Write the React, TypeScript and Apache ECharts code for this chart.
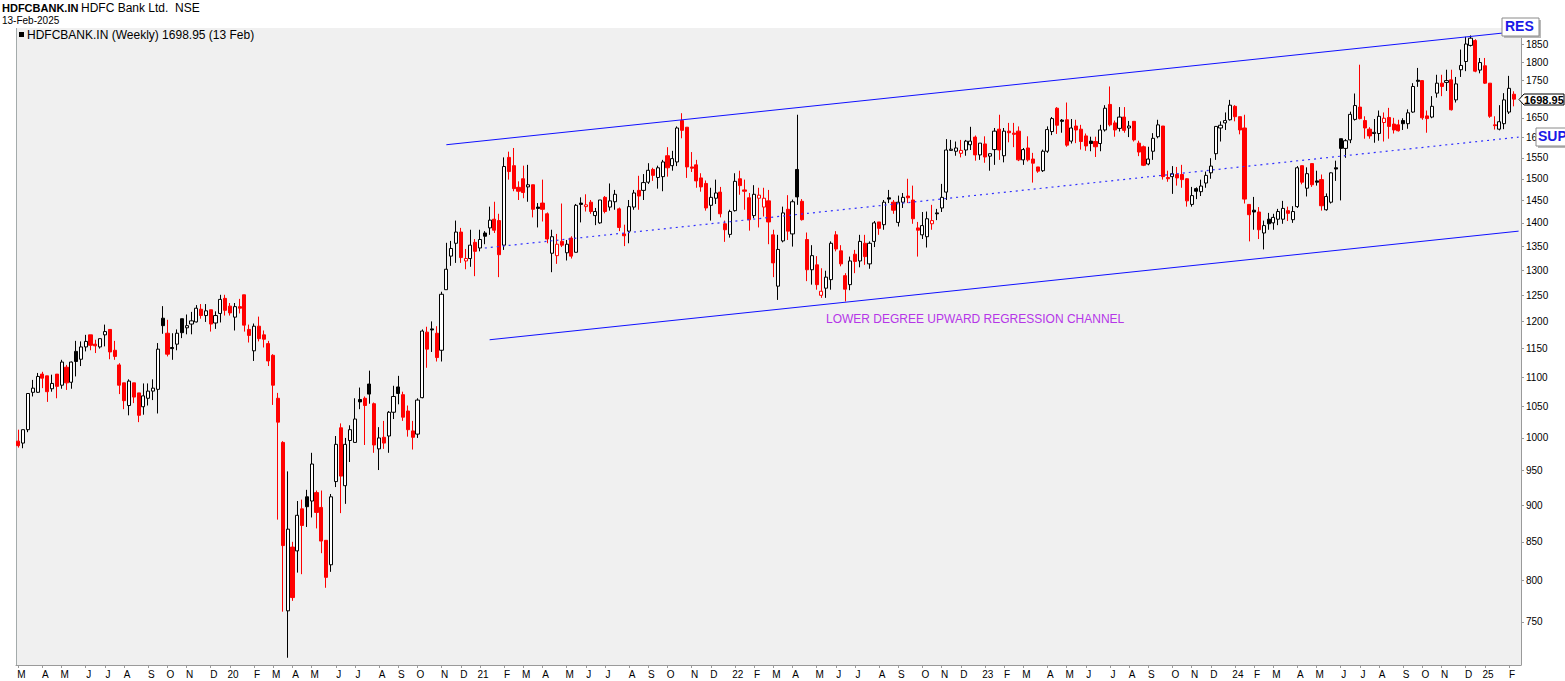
import React, { useEffect, useRef } from "react";
import * as echarts from "echarts";

// Weekly bars, first bar = week ending 2019-03-01
const firstWeek = "2019-03-01";

const opens = [
  995, 992, 1013, 1074, 1074, 1105, 1102, 1080, 1105, 1086,
  1117, 1091, 1145, 1131, 1153, 1175, 1158, 1153, 1175, 1185,
  1147, 1121, 1090, 1052, 1090, 1073, 1050, 1064, 1076, 1079,
  1206, 1178, 1152, 1158, 1205, 1188, 1195, 1199, 1223, 1211,
  1222, 1197, 1215, 1244, 1229, 1208, 1228, 1251, 1185, 1146,
  1191, 1175, 1159, 1138, 1064, 993, 763, 843, 838, 895,
  912, 906, 918, 897, 852, 820, 934, 1016, 928, 996,
  993, 1062, 1064, 1088, 1055, 983, 1001, 1003, 1041, 1083,
  1070, 1043, 1011, 1006, 1065, 1180, 1186, 1178, 1147, 1261,
  1329, 1356, 1380, 1319, 1324, 1358, 1346, 1378, 1389, 1408,
  1405, 1352, 1551, 1531, 1480, 1500, 1481, 1486, 1435, 1444,
  1420, 1335, 1330, 1360, 1336, 1367, 1337, 1444, 1436, 1446,
  1416, 1400, 1457, 1435, 1447, 1431, 1376, 1382, 1435, 1473,
  1473, 1492, 1522, 1503, 1505, 1555, 1531, 1540, 1643, 1626,
  1528, 1533, 1502, 1489, 1439, 1455, 1469, 1398, 1375, 1427,
  1500, 1474, 1456, 1416, 1455, 1435, 1449, 1374, 1268, 1361,
  1430, 1376, 1522, 1448, 1364, 1301, 1311, 1250, 1264, 1281,
  1374, 1340, 1289, 1271, 1333, 1319, 1356, 1313, 1360, 1402,
  1396, 1456, 1446, 1401, 1446, 1460, 1451, 1389, 1374, 1370,
  1398, 1422, 1433, 1469, 1568, 1566, 1561, 1569, 1582, 1601,
  1557, 1584, 1554, 1570, 1621, 1555, 1616, 1611, 1616, 1545,
  1574, 1547, 1528, 1519, 1566, 1615, 1675, 1644, 1645, 1591,
  1629, 1621, 1604, 1591, 1590, 1585, 1619, 1685, 1637, 1623,
  1652, 1624, 1641, 1586, 1577, 1535, 1566, 1602, 1629, 1503,
  1505, 1510, 1510, 1500, 1441, 1477, 1470, 1490, 1514, 1560,
  1624, 1637, 1645, 1680, 1653, 1624, 1441, 1428, 1424, 1378,
  1408, 1400, 1408, 1408, 1427, 1407, 1436, 1531, 1478, 1536,
  1495, 1498, 1429, 1446, 1526, 1597, 1573, 1594, 1646, 1678,
  1643, 1621, 1610, 1610, 1638, 1651, 1634, 1632, 1643, 1635,
  1665, 1750, 1749, 1655, 1652, 1715, 1742, 1744, 1751, 1697,
  1779, 1802, 1848, 1862, 1778, 1790, 1742, 1632, 1621, 1635,
  1665, 1712,
];

const highs = [
  1013, 1013, 1072, 1095, 1107, 1109, 1102, 1104, 1105, 1130,
  1121, 1127, 1164, 1163, 1175, 1175, 1166, 1168, 1194, 1185,
  1164, 1124, 1090, 1096, 1090, 1073, 1089, 1089, 1096, 1160,
  1229, 1203, 1178, 1185, 1205, 1213, 1218, 1231, 1233, 1233,
  1222, 1219, 1251, 1251, 1235, 1235, 1243, 1251, 1194, 1196,
  1209, 1183, 1164, 1140, 1073, 995, 949, 850, 906, 908,
  922, 977, 921, 921, 852, 916, 1003, 1023, 1000, 1020,
  1064, 1082, 1067, 1111, 1057, 1017, 1027, 1043, 1085, 1102,
  1075, 1052, 1027, 1064, 1185, 1190, 1200, 1191, 1257, 1357,
  1361, 1405, 1389, 1344, 1385, 1365, 1385, 1382, 1436, 1447,
  1420, 1551, 1565, 1574, 1494, 1531, 1533, 1486, 1444, 1498,
  1423, 1385, 1376, 1443, 1363, 1371, 1442, 1457, 1464, 1451,
  1433, 1451, 1460, 1489, 1474, 1434, 1396, 1451, 1474, 1507,
  1511, 1537, 1526, 1531, 1545, 1576, 1567, 1628, 1662, 1626,
  1564, 1545, 1513, 1496, 1479, 1498, 1481, 1405, 1429, 1513,
  1519, 1498, 1467, 1485, 1479, 1479, 1474, 1385, 1374, 1436,
  1462, 1452, 1658, 1453, 1379, 1352, 1329, 1304, 1299, 1360,
  1382, 1352, 1294, 1328, 1342, 1374, 1374, 1360, 1404, 1402,
  1451, 1474, 1451, 1461, 1467, 1500, 1484, 1402, 1424, 1425,
  1440, 1431, 1488, 1596, 1594, 1590, 1594, 1594, 1627, 1605,
  1586, 1603, 1560, 1624, 1658, 1624, 1637, 1637, 1628, 1574,
  1603, 1562, 1528, 1570, 1628, 1652, 1678, 1647, 1690, 1647,
  1645, 1632, 1610, 1602, 1602, 1632, 1683, 1733, 1643, 1678,
  1678, 1642, 1641, 1592, 1580, 1577, 1611, 1645, 1629, 1519,
  1530, 1528, 1533, 1501, 1481, 1480, 1498, 1517, 1549, 1628,
  1641, 1664, 1697, 1683, 1653, 1658, 1441, 1458, 1435, 1405,
  1422, 1420, 1431, 1449, 1436, 1437, 1530, 1531, 1527, 1536,
  1519, 1510, 1466, 1515, 1543, 1597, 1596, 1666, 1714, 1793,
  1654, 1626, 1647, 1669, 1664, 1676, 1650, 1645, 1649, 1672,
  1742, 1784, 1749, 1669, 1707, 1765, 1765, 1779, 1779, 1759,
  1836, 1873, 1877, 1866, 1812, 1812, 1742, 1654, 1683, 1715,
  1762, 1720,
];

const lows = [
  985, 984, 1009, 1067, 1073, 1081, 1058, 1075, 1064, 1080,
  1078, 1080, 1101, 1119, 1145, 1147, 1142, 1150, 1154, 1131,
  1130, 1071, 1046, 1036, 1056, 1025, 1037, 1052, 1061, 1039,
  1177, 1136, 1130, 1147, 1169, 1176, 1176, 1198, 1205, 1199,
  1181, 1186, 1198, 1211, 1211, 1183, 1215, 1181, 1161, 1128,
  1163, 1152, 1119, 1053, 880, 762, 709, 775, 810, 808,
  870, 883, 868, 835, 791, 811, 926, 889, 902, 963,
  993, 1046, 989, 1055, 977, 951, 983, 977, 1030, 1054,
  1027, 1002, 982, 1000, 1064, 1116, 1144, 1127, 1127, 1261,
  1309, 1315, 1315, 1302, 1307, 1288, 1339, 1354, 1374, 1378,
  1286, 1342, 1498, 1471, 1451, 1455, 1447, 1412, 1390, 1403,
  1356, 1296, 1313, 1348, 1320, 1324, 1337, 1401, 1425, 1420,
  1395, 1398, 1421, 1427, 1429, 1382, 1350, 1356, 1429, 1429,
  1451, 1488, 1495, 1477, 1471, 1505, 1519, 1530, 1598, 1502,
  1516, 1479, 1470, 1427, 1405, 1442, 1412, 1359, 1368, 1425,
  1463, 1429, 1383, 1410, 1390, 1414, 1354, 1286, 1241, 1358,
  1363, 1349, 1440, 1405, 1278, 1271, 1261, 1245, 1245, 1261,
  1339, 1308, 1238, 1260, 1294, 1306, 1311, 1303, 1348, 1374,
  1385, 1444, 1420, 1392, 1433, 1444, 1398, 1328, 1365, 1347,
  1385, 1406, 1424, 1451, 1567, 1555, 1551, 1555, 1569, 1543,
  1545, 1538, 1519, 1533, 1545, 1539, 1588, 1576, 1542, 1533,
  1541, 1491, 1514, 1516, 1562, 1606, 1609, 1612, 1577, 1585,
  1586, 1570, 1567, 1566, 1552, 1566, 1615, 1628, 1602, 1615,
  1612, 1601, 1590, 1554, 1530, 1532, 1545, 1598, 1498, 1493,
  1465, 1484, 1479, 1436, 1436, 1453, 1460, 1479, 1500, 1545,
  1590, 1619, 1643, 1641, 1608, 1443, 1360, 1385, 1365, 1343,
  1385, 1385, 1395, 1398, 1404, 1400, 1433, 1487, 1459, 1481,
  1484, 1427, 1427, 1443, 1495, 1450, 1550, 1586, 1643, 1646,
  1597, 1597, 1587, 1592, 1590, 1597, 1610, 1615, 1619, 1622,
  1663, 1732, 1645, 1612, 1649, 1703, 1707, 1721, 1669, 1690,
  1759, 1775, 1845, 1772, 1769, 1740, 1650, 1620, 1618, 1621,
  1660, 1680,
];

const closes = [
  988, 1013, 1072, 1081, 1101, 1098, 1075, 1089, 1084, 1126,
  1090, 1126, 1127, 1153, 1163, 1156, 1155, 1168, 1181, 1144,
  1136, 1086, 1060, 1093, 1066, 1036, 1068, 1076, 1081, 1149,
  1192, 1140, 1150, 1178, 1179, 1192, 1201, 1225, 1211, 1220,
  1195, 1211, 1242, 1221, 1216, 1228, 1225, 1193, 1174, 1191,
  1168, 1167, 1128, 1086, 1025, 845, 867, 779, 886, 872,
  898, 960, 890, 851, 804, 912, 990, 942, 990, 1013,
  1030, 1058, 1052, 1071, 989, 1000, 992, 1041, 1067, 1072,
  1033, 1013, 1001, 1061, 1182, 1149, 1184, 1134, 1252, 1302,
  1345, 1380, 1326, 1324, 1352, 1339, 1364, 1371, 1406, 1384,
  1332, 1529, 1517, 1477, 1471, 1468, 1486, 1430, 1432, 1430,
  1365, 1370, 1354, 1352, 1354, 1329, 1439, 1441, 1440, 1425,
  1425, 1451, 1425, 1449, 1464, 1390, 1372, 1436, 1467, 1460,
  1491, 1520, 1508, 1526, 1540, 1526, 1548, 1624, 1618, 1528,
  1525, 1495, 1481, 1433, 1457, 1467, 1420, 1385, 1425, 1494,
  1484, 1471, 1407, 1464, 1462, 1455, 1402, 1315, 1343, 1422,
  1382, 1447, 1458, 1407, 1301, 1330, 1271, 1258, 1286, 1356,
  1344, 1313, 1262, 1319, 1318, 1360, 1328, 1356, 1400, 1388,
  1446, 1453, 1428, 1446, 1457, 1456, 1409, 1384, 1394, 1409,
  1405, 1420, 1457, 1569, 1571, 1574, 1568, 1591, 1591, 1557,
  1586, 1552, 1560, 1616, 1569, 1616, 1612, 1608, 1545, 1570,
  1545, 1537, 1518, 1566, 1620, 1648, 1631, 1641, 1581, 1624,
  1619, 1590, 1579, 1585, 1577, 1619, 1675, 1632, 1619, 1652,
  1618, 1629, 1594, 1564, 1532, 1547, 1598, 1632, 1505, 1500,
  1512, 1502, 1498, 1449, 1461, 1471, 1483, 1508, 1530, 1628,
  1631, 1643, 1683, 1653, 1619, 1453, 1418, 1424, 1385, 1394,
  1398, 1412, 1425, 1432, 1421, 1425, 1526, 1492, 1512, 1486,
  1492, 1438, 1459, 1514, 1523, 1573, 1592, 1659, 1682, 1648,
  1624, 1604, 1613, 1654, 1649, 1628, 1619, 1617, 1635, 1663,
  1733, 1747, 1650, 1648, 1680, 1742, 1733, 1749, 1671, 1740,
  1791, 1852, 1869, 1775, 1799, 1742, 1654, 1630, 1640, 1697,
  1728, 1698.95,
];

const priceTicks = [
  750, 800, 850, 900, 950, 1000, 1050, 1100, 1150, 1200, 1250, 1300,
  1350, 1400, 1450, 1500, 1550, 1600, 1650, 1700, 1750, 1800, 1850,
];

const lastPrice = "1698.95";
// Channel lines: [bar index, price]
const upperChannel = [[89, 1582], [312, 1889]];
const midChannel = [[97, 1346], [312, 1601]];
const lowerChannel = [[98, 1166], [312, 1382]];

const FONT = 'Arial, "Liberation Sans", sans-serif';
const MONTHS = "JFMAMJJASOND";

export default function App() {
  const ref = useRef<HTMLDivElement>(null);

  useEffect(() => {
    const chart = echarts.init(ref.current!, null, { renderer: "svg" });

    // weekly categories (one extra empty week at the right edge)
    const nCat = closes.length + 1;
    const start = Date.parse(firstWeek + "T00:00:00Z");
    const dates: string[] = [];
    for (let i = 0; i < nCat; i++) {
      dates.push(new Date(start + i * 7 * 86400000).toISOString().slice(0, 10));
    }
    const showLabel = dates.map(
      (d, i) => i === 0 || d.slice(5, 7) !== dates[i - 1].slice(5, 7)
    );

    const candleData = closes.map((c, i) => {
      const o = opens[i];
      const prev = i === 0 ? o : closes[i - 1];
      const col = c >= prev ? "#000000" : "#ff0000";
      const fill = c > o ? "#ffffff" : col;
      return {
        value: [o, c, lows[i], highs[i]],
        itemStyle: { color: fill, color0: fill, borderColor: col, borderColor0: col },
      };
    });

    const seg = (p: number[][], style: any) => [
      { coord: [dates[p[0][0]], p[0][1]], lineStyle: style },
      { coord: [dates[p[1][0]], p[1][1]] },
    ];

    const option: any = {
      animation: false,
      backgroundColor: "#ffffff",
      grid: {
        left: 16,
        right: 44,
        top: 28,
        bottom: 16,
        show: true,
        backgroundColor: "#f0f0f0",
        borderWidth: 0,
      },
      xAxis: {
        type: "category",
        data: dates,
        boundaryGap: true,
        axisLine: { show: true, lineStyle: { color: "#9a9a9a", width: 1 } },
        axisTick: {
          show: true,
          alignWithLabel: true,
          interval: (i: number) => showLabel[i],
          length: 3,
          lineStyle: { color: "#9a9a9a" },
        },
        axisLabel: {
          interval: (i: number) => showLabel[i],
          formatter: (v: string) => {
            const m = Number(v.slice(5, 7));
            return m === 1 ? v.slice(2, 4) : MONTHS[m - 1];
          },
          fontSize: 10,
          fontFamily: FONT,
          color: "#000",
          margin: 4,
          padding: [0, 0, 0, 6],
        },
        splitLine: { show: false },
      },
      yAxis: {
        type: "log",
        logBase: 10,
        position: "right",
        min: 701,
        max: 1899,
        axisLine: { show: true, lineStyle: { color: "#9a9a9a", width: 1 } },
        axisTick: {
          show: true,
          customValues: priceTicks,
          length: 3,
          lineStyle: { color: "#9a9a9a" },
        },
        axisLabel: {
          customValues: priceTicks,
          formatter: (v: number) => String(Math.round(v)),
          fontSize: 10,
          fontFamily: FONT,
          color: "#000",
          margin: 5,
        },
        splitLine: { show: false },
        minorSplitLine: { show: false },
      },
      series: [
        {
          type: "candlestick",
          data: candleData,
          barWidth: 3.6,
          itemStyle: { borderWidth: 1 },
          markLine: {
            silent: true,
            symbol: ["none", "none"],
            label: { show: false },
            animation: false,
            data: [
              seg(upperChannel, { color: "#1010ff", width: 1, type: "solid" }),
              seg(midChannel, { color: "#3030ff", width: 1.2, type: [2, 4] }),
              seg(lowerChannel, { color: "#1010ff", width: 1, type: "solid" }),
            ],
          },
        },
      ],
      graphic: [
        {
          type: "line",
          shape: { x1: 16.5, y1: 28, x2: 16.5, y2: 665 },
          style: { stroke: "#a4abab", lineWidth: 1 },
        },
        {
          type: "text",
          left: 2,
          top: 2,
          style: { text: "HDFCBANK.IN", font: `bold 11px ${FONT}`, fill: "#000" },
        },
        {
          type: "text",
          left: 81,
          top: 2,
          style: { text: "HDFC Bank Ltd.  NSE", font: `12px ${FONT}`, fill: "#000" },
        },
        {
          type: "text",
          left: 2,
          top: 15,
          style: { text: "13-Feb-2025", font: `10px ${FONT}`, fill: "#000" },
        },
        {
          type: "rect",
          shape: { x: 19, y: 32, width: 5, height: 5 },
          style: { fill: "#000" },
        },
        {
          type: "text",
          left: 27,
          top: 29,
          style: {
            text: "HDFCBANK.IN (Weekly) 1698.95 (13 Feb)",
            font: `12px ${FONT}`,
            fill: "#000",
          },
        },
        {
          type: "text",
          left: 826,
          top: 313,
          style: {
            text: "LOWER DEGREE UPWARD REGRESSION CHANNEL",
            font: `12px ${FONT}`,
            fill: "#b536e8",
          },
        },
        // RES box
        {
          type: "rect",
          z: 100,
          shape: { x: 1504, y: 20, width: 37, height: 18 },
          style: { fill: "#b8b8b8" },
        },
        {
          type: "rect",
          z: 101,
          shape: { x: 1502, y: 18, width: 37, height: 18 },
          style: { fill: "#ffffff", stroke: "#8a8a8a", lineWidth: 1 },
        },
        {
          type: "text",
          z: 102,
          left: 1505,
          top: 19,
          style: { text: "RES", font: `bold 14px ${FONT}`, fill: "#1a1ae6" },
        },
        // SUP box
        {
          type: "rect",
          z: 100,
          shape: { x: 1538, y: 130, width: 30, height: 18 },
          style: { fill: "#b8b8b8" },
        },
        {
          type: "rect",
          z: 101,
          shape: { x: 1536, y: 128, width: 30, height: 18 },
          style: { fill: "#ffffff", stroke: "#8a8a8a", lineWidth: 1 },
        },
        {
          type: "text",
          z: 102,
          left: 1538,
          top: 129,
          style: { text: "SUP", font: `bold 14px ${FONT}`, fill: "#1a1ae6" },
        },
        // last price tag
        {
          type: "polygon",
          z: 101,
          shape: {
            points: [
              [1519, 99.5],
              [1524, 94],
              [1564, 94],
              [1564, 105],
              [1524, 105],
            ],
          },
          style: { fill: "#ffffff", stroke: "#000", lineWidth: 1 },
        },
        {
          type: "text",
          z: 102,
          left: 1524,
          top: 94,
          style: { text: lastPrice, font: `bold 11px ${FONT}`, fill: "#000" },
        },
      ],
    };

    chart.setOption(option);
    return () => chart.dispose();
  }, []);

  return (
    <div
      ref={ref}
      style={{ position: "absolute", left: 0, top: 0, width: 1565, height: 681 }}
    />
  );
}
